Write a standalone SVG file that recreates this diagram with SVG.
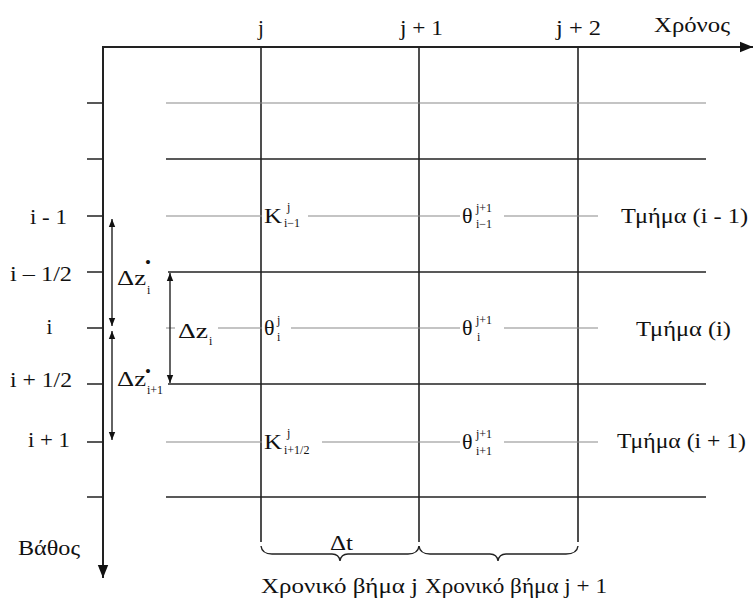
<svg xmlns="http://www.w3.org/2000/svg" width="754" height="605" viewBox="0 0 754 605">
<style>
text{font-family:"Liberation Serif","Times New Roman",serif;fill:#111}
.t{font-size:21px}
.s{font-size:12px}
.dark{stroke:#222;stroke-width:1.6;fill:none}
.gray{stroke:#8a8a8a;stroke-width:1.2;fill:none}
.ax{stroke:#222;stroke-width:2;fill:none}
</style>
<defs>
<marker id="ah" viewBox="0 0 10 10" refX="10" refY="5" markerWidth="8" markerHeight="8" orient="auto-start-reverse" markerUnits="userSpaceOnUse"><path d="M0,1 L10,5 L0,9 Z" fill="#111"/></marker>
<marker id="big" viewBox="0 0 10 10" refX="10" refY="5" markerWidth="13" markerHeight="13" orient="auto" markerUnits="userSpaceOnUse"><path d="M0,1 L10,5 L0,9 Z" fill="#111"/></marker>
</defs>
<g id="connectors">
<line class="ax" x1="103" y1="47" x2="753" y2="47" marker-end="url(#big)"/>
<line class="ax" x1="103" y1="46" x2="103" y2="578" marker-end="url(#big)"/>
<line class="dark" x1="261" y1="47" x2="261" y2="542"/>
<line class="dark" x1="419" y1="47" x2="419" y2="542"/>
<line class="dark" x1="578" y1="47" x2="578" y2="542"/>
<g class="dark">
<path d="M87,103 H103 M87,159 H103 M87,216 H103 M87,272 H103 M87,328 H103 M87,384 H103 M87,442 H103 M87,497 H103"/>
<line x1="166" y1="159" x2="706" y2="159"/>
<line x1="168" y1="272" x2="706" y2="272"/>
<line x1="168" y1="384" x2="706" y2="384"/>
<line x1="166" y1="497" x2="706" y2="497"/>
</g>
<g class="gray">
<line x1="166" y1="103" x2="706" y2="103"/>
<path d="M166,216 H262 M308,216 H460 M504,216 H598"/>
<path d="M166,328 H175 M218,328 H262 M291,328 H460 M504,328 H598"/>
<path d="M166,442 H262 M322,442 H460 M504,442 H598"/>
</g>
<line class="dark" x1="112" y1="219" x2="112" y2="326" marker-start="url(#ah)" marker-end="url(#ah)" style="stroke-width:1.4"/>
<line class="dark" x1="112" y1="331" x2="112" y2="440" marker-start="url(#ah)" marker-end="url(#ah)" style="stroke-width:1.4"/>
<line class="dark" x1="170" y1="273" x2="170" y2="383" marker-start="url(#ah)" marker-end="url(#ah)" style="stroke-width:1.4"/>
<path class="dark" style="stroke-width:1.4" d="M261,546 Q262,554 272,554 H332 Q339,554 340,561 Q341,554 348,554 H408 Q418,554 419,546"/>
<path class="dark" style="stroke-width:1.4" d="M419,546 Q420,554 430,554 H490 Q497,554 498,561 Q499,554 506,554 H566 Q577,554 578,546"/>
</g>
<g font-family="Liberation Serif, Times New Roman, serif" fill="#111">
<g id="axis-labels" font-size="21">
<text class="t" x="261" y="35" text-anchor="middle">j</text>
<text class="t" x="400" y="35" textLength="43" lengthAdjust="spacingAndGlyphs">j + 1</text>
<text class="t" x="556" y="35" textLength="45" lengthAdjust="spacingAndGlyphs">j + 2</text>
<text class="t" x="654" y="32" textLength="76" lengthAdjust="spacingAndGlyphs">Χρόνος</text>
<text class="t" x="18" y="555" textLength="62" lengthAdjust="spacingAndGlyphs">Βάθος</text>
<text class="t" x="30" y="224" textLength="37" lengthAdjust="spacingAndGlyphs">i - 1</text>
<text class="t" x="10" y="281" textLength="62" lengthAdjust="spacingAndGlyphs">i – 1/2</text>
<text class="t" x="49.5" y="334" text-anchor="middle">i</text>
<text class="t" x="10" y="387" textLength="62" lengthAdjust="spacingAndGlyphs">i + 1/2</text>
<text class="t" x="28" y="447" textLength="42" lengthAdjust="spacingAndGlyphs">i + 1</text>
</g>
<g id="dz-labels">
<text class="t" font-size="21" x="117" y="285" textLength="29" lengthAdjust="spacingAndGlyphs">Δz</text><text x="145" y="268" font-size="17">•</text><text class="s" font-size="12" x="147" y="294">i</text>
<text class="t" font-size="21" x="178" y="338" textLength="30" lengthAdjust="spacingAndGlyphs">Δz</text><text class="s" font-size="12" x="209" y="345">i</text>
<text class="t" font-size="21" x="117" y="386" textLength="29" lengthAdjust="spacingAndGlyphs">Δz</text><text x="145" y="377" font-size="17">•</text><text class="s" font-size="12" x="147" y="394">i+1</text>
</g>
<g id="node-K-i-1" font-size="22">
<text x="264" y="223" textLength="18" lengthAdjust="spacingAndGlyphs">K</text><text class="s" x="287" y="211">j</text><text class="s" x="284" y="227">i−1</text>
</g>
<g id="node-theta-i-j" font-size="22">
<text x="264" y="335">θ</text><text class="s" x="277" y="324">j</text><text class="s" x="277" y="341">i</text>
</g>
<g id="node-K-i-half" font-size="22">
<text x="264" y="449" textLength="18" lengthAdjust="spacingAndGlyphs">K</text><text class="s" x="287" y="437">j</text><text class="s" x="284" y="454">i+1/2</text>
</g>
<g id="node-theta-i-1-j1" font-size="22">
<text x="462" y="223">θ</text><text class="s" x="476" y="212">j+1</text><text class="s" x="476" y="228">i−1</text>
</g>
<g id="node-theta-i-j1" font-size="22">
<text x="462" y="335">θ</text><text class="s" x="476" y="324">j+1</text><text class="s" x="477" y="341">i</text>
</g>
<g id="node-theta-i1-j1" font-size="22">
<text x="462" y="449">θ</text><text class="s" x="476" y="438">j+1</text><text class="s" x="476" y="455">i+1</text>
</g>
<g id="segment-labels" font-size="21">
<text class="t" x="621" y="223" textLength="127" lengthAdjust="spacingAndGlyphs">Τμήμα (i - 1)</text>
<text class="t" x="636" y="336" textLength="95" lengthAdjust="spacingAndGlyphs">Τμήμα (i)</text>
<text class="t" x="617" y="448" textLength="129" lengthAdjust="spacingAndGlyphs">Τμήμα (i + 1)</text>
</g>
<g id="time-labels" font-size="21">
<text class="t" x="330" y="550" textLength="23" lengthAdjust="spacingAndGlyphs">Δt</text>
<text class="t" x="261" y="593" textLength="157" lengthAdjust="spacingAndGlyphs">Χρονικό βήμα j</text>
<text class="t" x="425" y="593" textLength="182" lengthAdjust="spacingAndGlyphs">Χρονικό βήμα j + 1</text>
</g>
</g>
</svg>
